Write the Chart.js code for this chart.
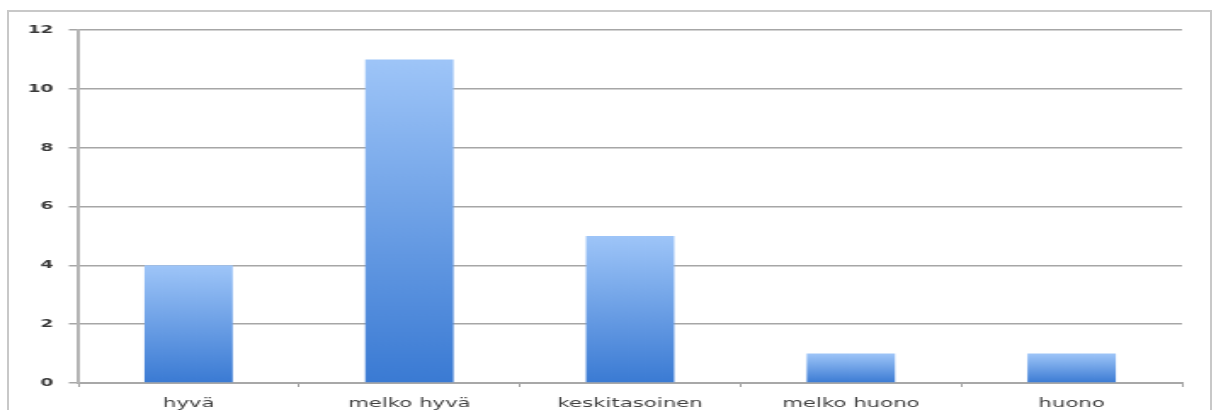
<!DOCTYPE html>
<html><head><meta charset="utf-8">
<script src="https://cdn.jsdelivr.net/npm/chart.js@4"></script>
<style>
html,body{margin:0;padding:0;background:#fff;overflow:hidden}
#wrap{position:relative;width:1216px;height:410px}
#frame{position:absolute;left:7px;top:10px;width:1205px;height:420px;border:2px solid #c8c8c8;box-sizing:border-box}
#c{position:absolute;left:0;top:0;width:1216px;height:410px}
</style></head><body>
<div id="wrap"><div id="frame"></div><canvas id="c" width="715" height="410" style="width:1216px;height:410px"></canvas></div>
<script>
const categories = ['hyvä','melko hyvä','keskitasoinen','melko huono','huono'];
const values = [4, 11, 5, 1, 1];
const yTicks = [0, 2, 4, 6, 8, 10, 12];

function barGradient(ctx){
  const chart = ctx.chart;
  const y = chart.scales && chart.scales.y;
  if(!y || ctx.type !== 'data' || !chart.chartArea) return '#6a9fe6';
  const top = y.getPixelForValue(ctx.parsed ? ctx.parsed.y : values[ctx.dataIndex]);
  const bottom = y.getPixelForValue(0);
  if(!isFinite(top) || !isFinite(bottom) || top === bottom) return '#6a9fe6';
  const g = chart.ctx.createLinearGradient(0, top, 0, bottom);
  g.addColorStop(0, '#9ec5f8');
  g.addColorStop(1, '#3a7ad3');
  return g;
}

new Chart(document.getElementById('c'), {
  type: 'bar',
  data: { labels: categories, datasets: [{ data: values, backgroundColor: barGradient, borderWidth: 0, barPercentage: 0.4, categoryPercentage: 1 }] },
  options: {
    responsive: false, animation: false, devicePixelRatio: 1,
    layout: { padding: { left: 6, right: 20, top: 30, bottom: 0 } },
    plugins: { legend: { display: false }, tooltip: { enabled: false } },
    scales: {
      x: {
        offset: true,
        grid: { display: true, drawOnChartArea: false, offset: true, color: '#a0a0a0', tickLength: 4 },
        border: { color: '#a8a8a8', width: 2 },
        ticks: { color: '#404040', font: { family: 'DejaVu Sans', size: 12.5 }, padding: 9 },
        afterFit: s => { s.height = 27; }
      },
      y: {
        min: 0, max: 12,
        afterBuildTicks: s => { s.ticks = yTicks.map(v => ({ value: v })); },
        grid: { color: '#a6a6a6', lineWidth: 1.5, tickLength: 5.5 },
        border: { color: '#b4b4b4', width: 2 },
        ticks: { color: '#3a3a3a', font: { family: 'DejaVu Sans', size: 11, weight: 'bold' }, padding: 9 },
        afterFit: s => { s.width = 40; }
      }
    }
  }
});
</script>
</body></html>
